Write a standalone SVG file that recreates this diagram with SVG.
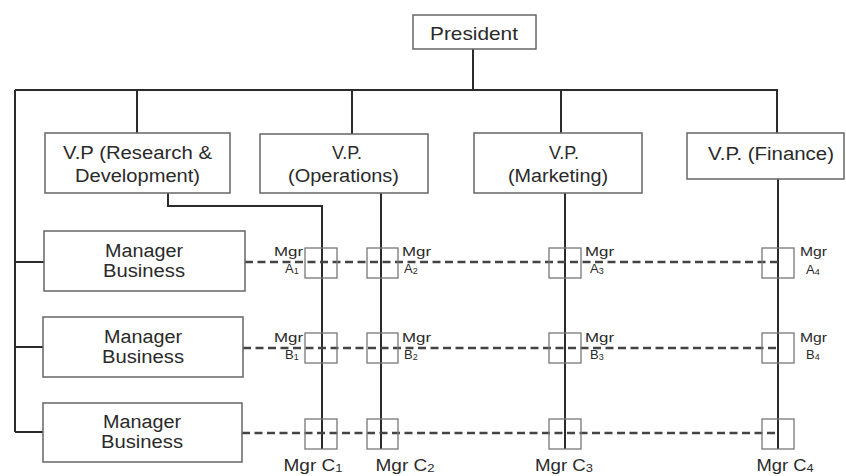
<svg xmlns="http://www.w3.org/2000/svg" width="846" height="476" viewBox="0 0 846 476">
<style>
.box{fill:#fff;stroke:#666;stroke-width:1.5}
.sq{fill:none;stroke:#777;stroke-width:1.3}
.ln{fill:none;stroke:#2b2b2b;stroke-width:2}
.dash{fill:none;stroke:#444;stroke-width:2.4;stroke-dasharray:8 4.5}
text{font-family:"Liberation Sans",Arial,sans-serif;fill:#2a2a2a}
.big{font-size:18px;text-anchor:middle}
.pres{font-size:19px;text-anchor:middle}
.sm{font-size:13px}
.mc{font-size:16px;text-anchor:middle}
.sub{font-size:9px}
.subc{font-size:11px}
</style>
<rect width="846" height="476" fill="#fff"/>
<g id="connectors">
  <path class="ln" d="M473 49V90M15 90H778M15 90V432M15 262H44M15 347H44M15 432H44"/>
  <path class="ln" d="M137 90V133M352 90V134M561 90V133M777 90V133"/>
  <path class="ln" d="M168 193V206H322V449M381 193V449M565 193V449M778 179V449"/>
  <path class="dash" d="M245 262H778M243 348H778M242 433H778"/>
</g>
<g id="president">
  <rect class="box" x="413" y="15" width="123" height="34"/>
  <text class="pres" x="474" y="40" textLength="88" lengthAdjust="spacingAndGlyphs">President</text>
</g>
<g id="vp-rd">
  <rect class="box" x="45" y="133" width="185" height="60"/>
  <text class="big" x="137.5" y="159" textLength="149" lengthAdjust="spacingAndGlyphs">V.P (Research &amp;</text>
  <text class="big" x="137.5" y="182" textLength="125" lengthAdjust="spacingAndGlyphs">Development)</text>
</g>
<g id="vp-ops">
  <rect class="box" x="260" y="134" width="168" height="59"/>
  <text class="big" x="347" y="159">V.P.</text>
  <text class="big" x="343.5" y="182" textLength="111" lengthAdjust="spacingAndGlyphs">(Operations)</text>
</g>
<g id="vp-mkt">
  <rect class="box" x="474" y="133" width="168" height="60"/>
  <text class="big" x="564" y="159">V.P.</text>
  <text class="big" x="558" y="182" textLength="100" lengthAdjust="spacingAndGlyphs">(Marketing)</text>
</g>
<g id="vp-fin">
  <rect class="box" x="687" y="133" width="157" height="46"/>
  <text class="big" x="771" y="160" textLength="126" lengthAdjust="spacingAndGlyphs">V.P. (Finance)</text>
</g>
<g id="mgr-business-1">
  <rect class="box" x="44" y="231" width="201" height="60"/>
  <text class="big" x="144" y="257" textLength="78" lengthAdjust="spacingAndGlyphs">Manager</text>
  <text class="big" x="144" y="277" textLength="82" lengthAdjust="spacingAndGlyphs">Business</text>
</g>
<g id="mgr-business-2">
  <rect class="box" x="43" y="317" width="200" height="60"/>
  <text class="big" x="143" y="343" textLength="78" lengthAdjust="spacingAndGlyphs">Manager</text>
  <text class="big" x="143" y="363" textLength="82" lengthAdjust="spacingAndGlyphs">Business</text>
</g>
<g id="mgr-business-3">
  <rect class="box" x="43" y="403" width="199" height="59"/>
  <text class="big" x="142" y="428" textLength="78" lengthAdjust="spacingAndGlyphs">Manager</text>
  <text class="big" x="142" y="448" textLength="82" lengthAdjust="spacingAndGlyphs">Business</text>
</g>
<g id="mgr-a1">
  <rect class="sq" x="305" y="248" width="32" height="30"/>
  <text class="sm" x="303" y="256" text-anchor="end" textLength="29" lengthAdjust="spacingAndGlyphs">Mgr</text>
  <text class="sm" x="285" y="273">A<tspan class="sub" dy="1">1</tspan></text>
</g>
<g id="mgr-a2">
  <rect class="sq" x="367" y="248" width="31" height="30"/>
  <text class="sm" x="402" y="256" textLength="29" lengthAdjust="spacingAndGlyphs">Mgr</text>
  <text class="sm" x="404" y="273">A<tspan class="sub" dy="1">2</tspan></text>
</g>
<g id="mgr-a3">
  <rect class="sq" x="549" y="248" width="32" height="30"/>
  <text class="sm" x="585" y="256" textLength="29" lengthAdjust="spacingAndGlyphs">Mgr</text>
  <text class="sm" x="590" y="273">A<tspan class="sub" dy="1">3</tspan></text>
</g>
<g id="mgr-a4">
  <rect class="sq" x="762" y="248" width="32" height="30"/>
  <text class="sm" x="800" y="256" textLength="27" lengthAdjust="spacingAndGlyphs">Mgr</text>
  <text class="sm" x="806" y="274">A<tspan class="sub" dy="1">4</tspan></text>
</g>
<g id="mgr-b1">
  <rect class="sq" x="305" y="333" width="32" height="30"/>
  <text class="sm" x="303" y="342" text-anchor="end" textLength="29" lengthAdjust="spacingAndGlyphs">Mgr</text>
  <text class="sm" x="285" y="359">B<tspan class="sub" dy="1">1</tspan></text>
</g>
<g id="mgr-b2">
  <rect class="sq" x="367" y="333" width="31" height="30"/>
  <text class="sm" x="402" y="342" textLength="29" lengthAdjust="spacingAndGlyphs">Mgr</text>
  <text class="sm" x="404" y="359">B<tspan class="sub" dy="1">2</tspan></text>
</g>
<g id="mgr-b3">
  <rect class="sq" x="549" y="333" width="32" height="30"/>
  <text class="sm" x="585" y="342" textLength="29" lengthAdjust="spacingAndGlyphs">Mgr</text>
  <text class="sm" x="590" y="359">B<tspan class="sub" dy="1">3</tspan></text>
</g>
<g id="mgr-b4">
  <rect class="sq" x="762" y="333" width="32" height="30"/>
  <text class="sm" x="800" y="342" textLength="27" lengthAdjust="spacingAndGlyphs">Mgr</text>
  <text class="sm" x="806" y="359">B<tspan class="sub" dy="1">4</tspan></text>
</g>
<g id="mgr-c1">
  <rect class="sq" x="305" y="419" width="32" height="30"/>
  <text class="mc" x="313" y="471" textLength="59" lengthAdjust="spacingAndGlyphs">Mgr C<tspan class="subc" dy="1">1</tspan></text>
</g>
<g id="mgr-c2">
  <rect class="sq" x="367" y="419" width="31" height="30"/>
  <text class="mc" x="405" y="471" textLength="59" lengthAdjust="spacingAndGlyphs">Mgr C<tspan class="subc" dy="1">2</tspan></text>
</g>
<g id="mgr-c3">
  <rect class="sq" x="549" y="419" width="32" height="30"/>
  <text class="mc" x="564" y="471" textLength="58" lengthAdjust="spacingAndGlyphs">Mgr C<tspan class="subc" dy="1">3</tspan></text>
</g>
<g id="mgr-c4">
  <rect class="sq" x="762" y="419" width="32" height="30"/>
  <text class="mc" x="785" y="471" textLength="57" lengthAdjust="spacingAndGlyphs">Mgr C<tspan class="subc" dy="1">4</tspan></text>
</g>
</svg>
